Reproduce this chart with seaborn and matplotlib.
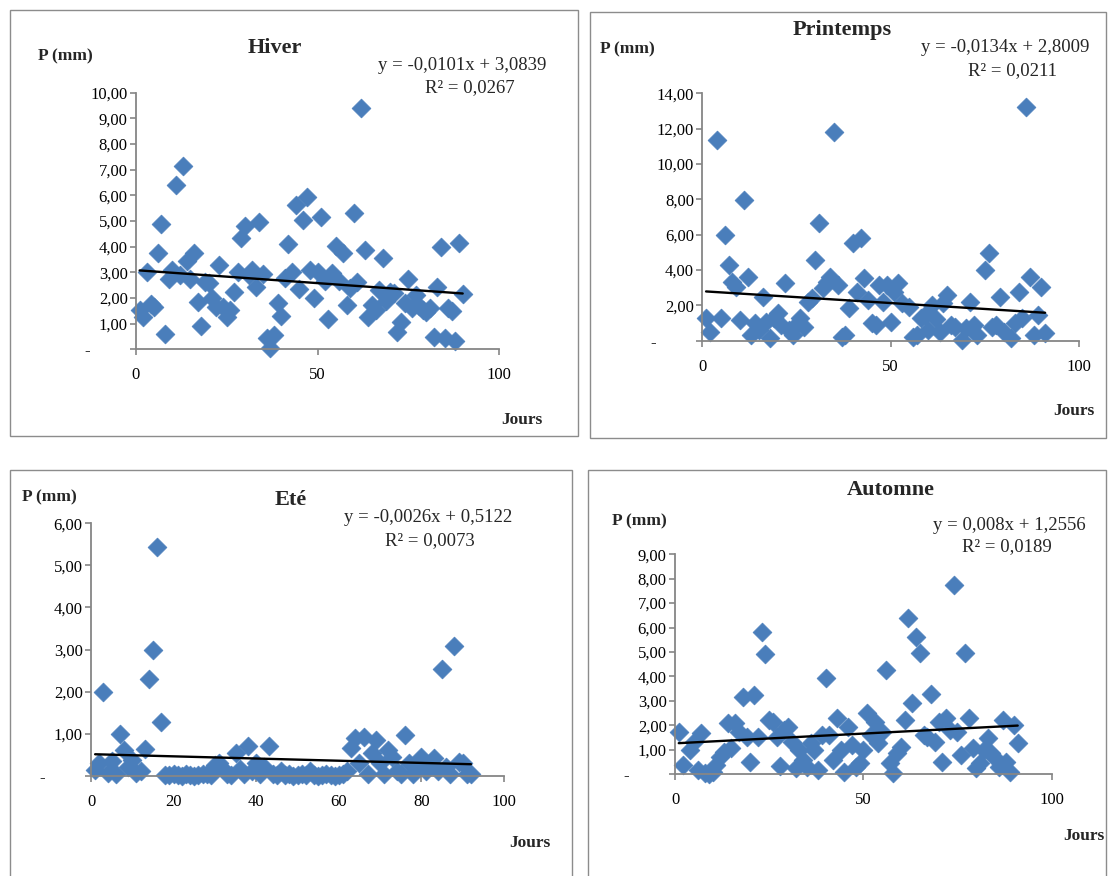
import numpy as np
import pandas as pd
import matplotlib
matplotlib.use("Agg")
import matplotlib.pyplot as plt
import seaborn as sns
from matplotlib.patches import Rectangle
from matplotlib.ticker import FuncFormatter, MultipleLocator

# ---------------- data ----------------
hiver_jours = [1, 2, 3, 4, 5, 6, 7, 8, 9, 10, 11, 12, 13, 14, 15, 16, 17, 18, 19, 20,
               21, 22, 23, 24, 25, 26, 27, 28, 29, 30, 31, 32, 33, 34, 35, 36, 37, 38, 39, 40,
               41, 42, 43, 44, 45, 46, 47, 48, 49, 50, 51, 52, 53, 54, 55, 56, 57, 58, 59, 60,
               61, 62, 63, 64, 65, 66, 67, 68, 69, 70, 71, 72, 73, 74, 75, 76, 77, 78, 79, 80,
               81, 82, 83, 84, 85, 86, 87, 88, 89, 90]
hiver_p = [1.55, 1.27, 3.00, 1.75, 1.66, 3.77, 4.90, 0.60, 2.73, 3.10, 6.40, 2.90, 7.14, 3.45, 2.73, 3.77, 1.86, 0.90, 2.64, 2.57,
           2.00, 1.66, 3.29, 1.66, 1.27, 1.53, 2.25, 3.03, 4.32, 4.80, 2.90, 3.09, 2.44, 4.97, 2.92, 0.43, 0.05, 0.56, 1.82, 1.30,
           2.77, 4.10, 3.03, 5.62, 2.34, 5.04, 5.92, 3.09, 1.99, 3.03, 5.17, 2.68, 1.17, 2.96, 4.03, 2.68, 3.74, 1.73, 2.38, 5.30,
           2.64, 9.39, 3.87, 1.27, 1.73, 1.53, 2.31, 3.55, 1.90, 2.25, 2.18, 0.69, 1.08, 1.79, 2.73, 1.60, 2.12, 1.70, 1.53, 1.47,
           1.60, 0.49, 2.44, 4.00, 0.43, 1.60, 1.50, 0.34, 4.13, 2.16]

printemps_jours = [1, 2, 4, 5, 6, 7, 8, 9, 10, 11, 12, 13, 14, 15, 16, 17, 18, 19, 20, 21,
                   22, 23, 24, 25, 26, 27, 28, 29, 30, 31, 32, 33, 34, 35, 36, 37, 38, 39, 40, 41,
                   42, 43, 44, 45, 46, 47, 48, 49, 50, 51, 52, 53, 55, 56, 57, 58, 59, 60, 61, 62,
                   63, 64, 65, 66, 67, 69, 70, 71, 72, 73, 75, 76, 77, 78, 79, 80, 82, 83, 84, 85,
                   86, 87, 88, 89, 90, 91]
printemps_p = [1.26, 0.51, 11.36, 1.26, 5.98, 4.28, 3.34, 3.06, 1.17, 7.96, 3.62, 0.32, 0.98, 0.60, 2.49, 1.08, 0.13, 1.26, 1.55, 0.89,
               3.25, 0.60, 0.32, 0.89, 1.26, 0.79, 2.20, 2.40, 4.57, 6.64, 2.96, 3.34, 3.62, 11.83, 3.15, 0.23, 0.32, 1.83, 5.51, 2.77,
               5.79, 3.53, 2.30, 0.98, 0.89, 3.15, 2.20, 3.15, 1.08, 2.77, 3.25, 2.11, 1.92, 0.23, 0.32, 1.26, 1.45, 0.60, 2.02, 1.20,
               0.51, 2.11, 2.58, 0.89, 0.79, 0.04, 0.70, 2.20, 0.89, 0.32, 4.00, 4.94, 0.79, 0.89, 2.49, 0.51, 0.13, 1.00, 2.77, 1.26,
               13.25, 3.62, 0.32, 1.45, 3.06, 0.42]

ete_jours = list(range(1, 93))
ete_p = [0.13, 0.30, 1.98, 0.06, 0.35, 0.05, 1.00, 0.61, 0.21, 0.37, 0.06, 0.10, 0.63, 2.29, 2.99, 5.44, 1.27, 0.02, 0.02, 0.05,
         0.02, 0.00, 0.03, 0.02, 0.00, 0.02, 0.03, 0.05, 0.02, 0.25, 0.30, 0.15, 0.05, 0.02, 0.53, 0.15, 0.05, 0.71, 0.10, 0.30,
         0.05, 0.20, 0.71, 0.05, 0.02, 0.10, 0.02, 0.05, 0.00, 0.02, 0.05, 0.02, 0.10, 0.02, 0.00, 0.02, 0.05, 0.02, 0.00, 0.02,
         0.05, 0.10, 0.65, 0.89, 0.30, 0.93, 0.05, 0.53, 0.85, 0.30, 0.05, 0.61, 0.45, 0.10, 0.05, 0.97, 0.30, 0.05, 0.20, 0.45,
         0.10, 0.30, 0.41, 0.10, 2.54, 0.20, 0.05, 3.09, 0.33, 0.30, 0.05, 0.05]

automne_jours = [1, 2, 4, 5, 6, 7, 8, 9, 10, 11, 12, 13, 14, 15, 16, 17, 18, 19, 20, 21,
                 22, 23, 24, 25, 26, 27, 28, 29, 30, 31, 32, 33, 34, 35, 36, 37, 38, 39, 40, 41,
                 42, 43, 44, 45, 46, 47, 48, 49, 50, 51, 52, 53, 54, 55, 56, 57, 58, 59, 60, 61,
                 62, 63, 64, 65, 66, 67, 68, 69, 70, 71, 72, 73, 74, 75, 76, 77, 78, 79, 80, 81,
                 82, 83, 84, 85, 86, 87, 88, 89, 90, 91]
automne_p = [1.73, 0.37, 0.98, 1.33, 0.16, 1.67, 0.05, 0.02, 0.10, 0.37, 0.71, 0.90, 2.08, 1.05, 2.08, 1.73, 3.17, 1.53, 0.50, 3.24,
             1.53, 5.83, 4.92, 2.21, 2.14, 1.50, 0.33, 1.80, 1.94, 1.33, 0.23, 0.98, 0.57, 0.30, 1.26, 0.98, 0.16, 1.60, 3.95, 1.60,
             0.57, 2.28, 0.98, 0.10, 1.94, 1.19, 0.30, 0.44, 1.00, 2.49, 1.60, 2.14, 1.26, 1.73, 4.26, 0.44, 0.05, 0.85, 1.12, 2.21,
             6.38, 2.90, 5.60, 4.95, 1.60, 1.53, 3.28, 1.33, 2.14, 0.50, 2.28, 1.80, 7.75, 1.73, 0.78, 4.95, 2.28, 1.05, 0.23, 0.44,
             1.00, 1.46, 0.85, 0.64, 0.30, 2.21, 0.50, 0.10, 2.00, 1.26]

titres = ["Hiver", "Printemps", "Eté", "Automne"]
pentes = [-0.0101, -0.0134, -0.0026, 0.008]
ordonnees = [3.0839, 2.8009, 0.5122, 1.2556]
equations = ["y = -0,0101x + 3,0839", "y = -0,0134x + 2,8009", "y = -0,0026x + 0,5122", "y = 0,008x + 1,2556"]
r2_labels = ["R² = 0,0267", "R² = 0,0211", "R² = 0,0073", "R² = 0,0189"]
y_max = [10, 14, 6, 9]
y_step = [1, 2, 1, 1]
x_step = [50, 50, 20, 50]

# ---------------- style ----------------
sns.set_theme(style="white")
plt.rcParams['font.family'] = ['Liberation Serif', 'DejaVu Serif']

W, H = 1108, 876
fig = plt.figure(figsize=(W / 100, H / 100), dpi=100)

def px_rect(l, r, t, b):
    return [l / W, 1 - b / H, (r - l) / W, (b - t) / H]

axes_px = [
    (136, 499, 92.7, 349.3),
    (702.3, 1079, 93.3, 340.7),
    (91, 504, 523.3, 775.7),
    (675, 1051.6, 554.3, 774),
]
borders_px = [
    (10, 578, 10, 436),
    (590, 1106, 12, 438),
    (10, 572, 470, 878),
    (588, 1106, 470, 878),
]
title_px = [(275, 48), (842, 30), (291, 500), (891, 490)]
pmm_px = [(38, 56), (600, 49), (22, 497), (612, 521)]
jours_px = [(543, 420), (1094, 411), (550, 843), (1104, 836)]
eq_px = [(462, 65), (1005, 48), (428, 518), (1009, 526)]
r2_px = [(470, 88), (1012, 71), (430, 541), (1007, 547)]

data = [
    pd.DataFrame({"Jours": hiver_jours, "P": hiver_p}),
    pd.DataFrame({"Jours": printemps_jours, "P": printemps_p}),
    pd.DataFrame({"Jours": ete_jours, "P": ete_p}),
    pd.DataFrame({"Jours": automne_jours, "P": automne_p}),
]

grey = "#868686"
blue = "#4A7EBB"

def fmt(v, pos):
    if abs(v) < 1e-9:
        return "-         "
    return f"{v:.2f}".replace(".", ",")

def fx(x):
    return x / W

def fy(y):
    return 1 - y / H

for i, df in enumerate(data):
    l, r, t, b = borders_px[i]
    fig.patches.append(Rectangle((l / W, 1 - b / H), (r - l) / W, (b - t) / H,
                                 transform=fig.transFigure, fill=False,
                                 edgecolor="#8c8c8c", linewidth=1.0))
    ax = fig.add_axes(px_rect(*axes_px[i]))
    sns.scatterplot(data=df, x="Jours", y="P", marker="D", s=92, color=blue,
                    edgecolor=blue, linewidth=0.5, ax=ax, legend=False)
    ax.collections[-1].set_clip_on(False)
    xs = np.array([df["Jours"].min(), df["Jours"].max()], dtype=float)
    trend = pd.DataFrame({"Jours": xs, "P": pentes[i] * xs + ordonnees[i]})
    sns.lineplot(data=trend, x="Jours", y="P", color="black", linewidth=1.7, ax=ax)
    ax.set_xlim(0, 100)
    ax.set_ylim(0, y_max[i])
    ax.xaxis.set_major_locator(MultipleLocator(x_step[i]))
    ax.yaxis.set_major_locator(MultipleLocator(y_step[i]))
    ax.yaxis.set_major_formatter(FuncFormatter(fmt))
    ax.set_xlabel("")
    ax.set_ylabel("")
    for s in ["top", "right"]:
        ax.spines[s].set_visible(False)
    for s in ["left", "bottom"]:
        ax.spines[s].set_color(grey)
        ax.spines[s].set_linewidth(1.3)
    ax.tick_params(axis="both", which="major", direction="out", length=4, width=1.2,
                   color=grey, labelsize=12, labelcolor="black",
                   left=True, bottom=True)
    ax.tick_params(axis="y", pad=2)
    ax.tick_params(axis="x", pad=9)
    ax.set_facecolor("none")

    fig.text(fx(title_px[i][0]), fy(title_px[i][1]), titres[i], ha="center", va="center",
             fontsize=16, fontweight="bold")
    fig.text(fx(pmm_px[i][0]), fy(pmm_px[i][1]), "P (mm)", ha="left", va="center",
             fontsize=12.5, fontweight="bold")
    fig.text(fx(jours_px[i][0]), fy(jours_px[i][1]), "Jours", ha="right", va="center",
             fontsize=12.5, fontweight="bold")
    fig.text(fx(eq_px[i][0]), fy(eq_px[i][1]), equations[i], ha="center", va="center",
             fontsize=13.5)
    fig.text(fx(r2_px[i][0]), fy(r2_px[i][1]), r2_labels[i], ha="center", va="center",
             fontsize=13.5)

fig.savefig("out.png", dpi=100, facecolor="white")
